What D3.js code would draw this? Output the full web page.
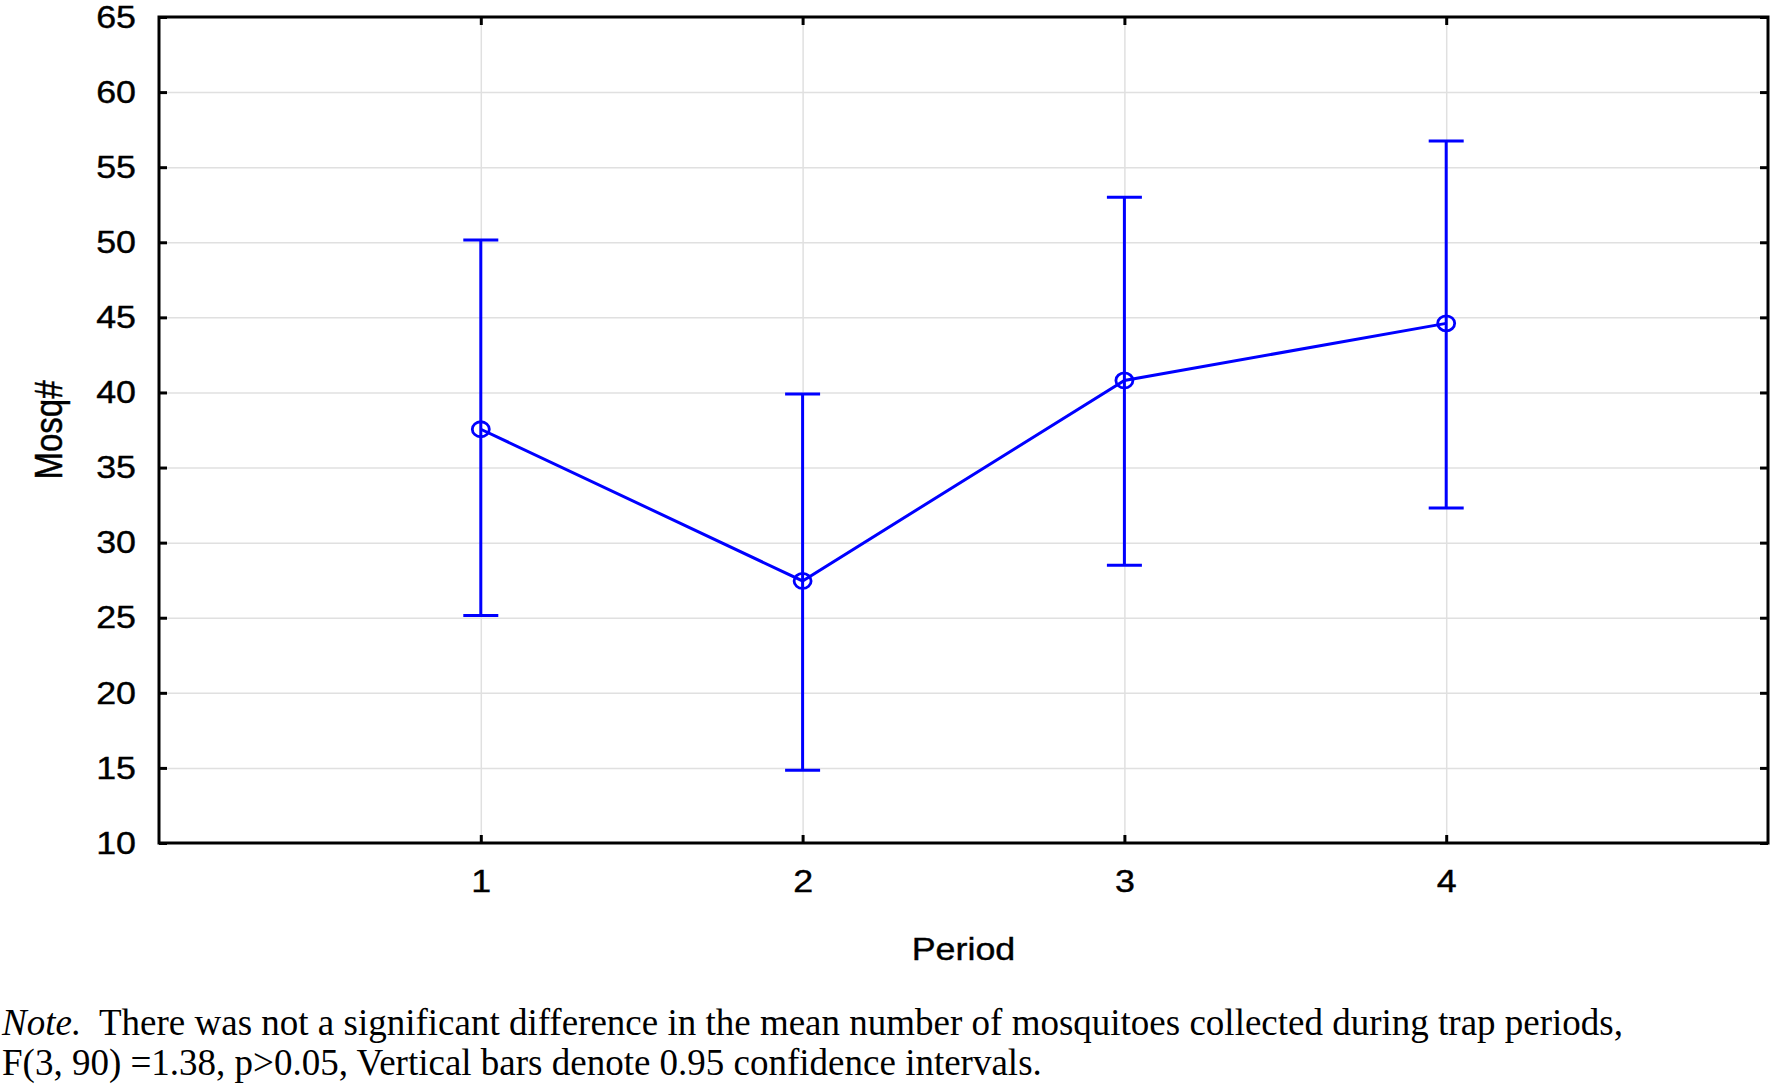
<!DOCTYPE html>
<html>
<head>
<meta charset="utf-8">
<style>
body { margin: 0; background: #fff; }
svg { display: block; }
.axis text { font: 32px "Liberation Sans", Arial, sans-serif; fill: #000; stroke: #000; stroke-width: 0.4; }
.axis line { stroke: #000; stroke-width: 3; }
.axis path { display: none; }
.grid line { stroke: #e0e0e0; stroke-width: 1.5; }
.grid path { display: none; }
.frame { fill: none; stroke: #000; stroke-width: 3; }
.title { font: 32px "Liberation Sans", Arial, sans-serif; fill: #000; stroke: #000; stroke-width: 0.4; }
.note { font: 37px "Liberation Serif", "Times New Roman", serif; fill: #000; }
</style>
</head>
<body>
<svg width="1771" height="1084"></svg>
<script src="https://d3js.org/d3.v7.min.js"></script>
<script>

// data
var periods = [1, 2, 3, 4];
var means = [37.55, 27.45, 40.8, 44.6];
var upper = [50.15, 39.9, 53.0, 56.75];
var lower = [25.15, 14.85, 28.5, 32.3];
var yTicks = [10, 15, 20, 25, 30, 35, 40, 45, 50, 55, 60, 65];
var xTicks = [1, 2, 3, 4];

var svg = d3.select("svg"),
    margin = {top: 17, right: 3, bottom: 241, left: 159},
    width = +svg.attr("width") - margin.left - margin.right,
    height = +svg.attr("height") - margin.top - margin.bottom;

// the source picture is a bit stretched sideways, so the sans text is too
var stretch = 1.12;

var x = d3.scaleLinear().domain([0, 5]).range([0, width]);
var y = d3.scaleLinear().domain([10, 65]).range([height, 0]);

var g = svg.append("g")
    .attr("transform", "translate(" + margin.left + "," + margin.top + ")");

// grid
g.append("g").attr("class", "grid")
  .call(d3.axisLeft(y).tickValues(yTicks.slice(1, -1)).tickSize(-width).tickFormat(""));
g.append("g").attr("class", "grid")
  .attr("transform", "translate(0," + height + ")")
  .call(d3.axisBottom(x).tickValues(xTicks).tickSize(-height).tickFormat(""));

// axes, ticks point inward
var gy = g.append("g").attr("class", "axis")
  .call(d3.axisLeft(y).tickValues(yTicks).tickSize(-8).tickPadding(23));
gy.selectAll("text")
  .attr("x", -23 / stretch)
  .attr("transform", "scale(" + stretch + ",1)");

g.append("g").attr("class", "axis")
  .attr("transform", "translate(" + width + ",0)")
  .call(d3.axisRight(y).tickValues(yTicks).tickSize(-8).tickFormat(""));

var gx = g.append("g").attr("class", "axis")
  .attr("transform", "translate(0," + height + ")")
  .call(d3.axisBottom(x).tickValues(xTicks).tickSize(-8).tickPadding(26).tickFormat(d3.format("d")));
gx.selectAll("text")
  .attr("transform", "scale(" + stretch + ",1)");

g.append("g").attr("class", "axis")
  .call(d3.axisTop(x).tickValues(xTicks).tickSize(-8).tickFormat(""));

g.append("rect").attr("class", "frame")
  .attr("width", width).attr("height", height);

// error bars
var bars = g.selectAll(".ebar")
  .data(periods)
  .enter().append("g")
  .attr("class", "ebar")
  .attr("stroke", "#0000ff")
  .attr("stroke-width", 3);

bars.append("line")
  .attr("x1", function(d) { return x(d); })
  .attr("x2", function(d) { return x(d); })
  .attr("y1", function(d, i) { return y(upper[i]); })
  .attr("y2", function(d, i) { return y(lower[i]); });
bars.append("line")
  .attr("x1", function(d) { return x(d) - 17.5; })
  .attr("x2", function(d) { return x(d) + 17.5; })
  .attr("y1", function(d, i) { return y(upper[i]); })
  .attr("y2", function(d, i) { return y(upper[i]); });
bars.append("line")
  .attr("x1", function(d) { return x(d) - 17.5; })
  .attr("x2", function(d) { return x(d) + 17.5; })
  .attr("y1", function(d, i) { return y(lower[i]); })
  .attr("y2", function(d, i) { return y(lower[i]); });

// mean line
var line = d3.line()
  .x(function(d) { return x(d); })
  .y(function(d, i) { return y(means[i]); });

g.append("path")
  .datum(periods)
  .attr("d", line)
  .attr("fill", "none")
  .attr("stroke", "#0000ff")
  .attr("stroke-width", 3);

g.selectAll(".pt")
  .data(periods)
  .enter().append("ellipse")
  .attr("class", "pt")
  .attr("cx", function(d) { return x(d); })
  .attr("cy", function(d, i) { return y(means[i]); })
  .attr("rx", 8.5)
  .attr("ry", 7.5)
  .attr("fill", "none")
  .attr("stroke", "#0000ff")
  .attr("stroke-width", 2.8);

// axis titles
svg.append("text").attr("class", "title")
  .attr("transform", "translate(" + (margin.left + width / 2) + ",960) scale(" + stretch + ",1)")
  .attr("text-anchor", "middle")
  .text("Period");

svg.append("text").attr("class", "title")
  .style("font-size", "33px")
  .attr("transform", "translate(62," + (margin.top + height / 2) + ") scale(1.17,1) rotate(-90)")
  .attr("text-anchor", "middle")
  .text("Mosq#");

// note under the chart
var n1 = svg.append("text").attr("class", "note")
  .attr("x", 2).attr("y", 1035)
  .attr("xml:space", "preserve");
n1.append("tspan").attr("font-style", "italic").text("Note.");
n1.append("tspan").text("  There was not a significant difference in the mean number of mosquitoes collected during trap periods,");

svg.append("text").attr("class", "note")
  .attr("x", 2).attr("y", 1075)
  .text("F(3, 90) =1.38, p>0.05, Vertical bars denote 0.95 confidence intervals.");

</script>
</body>
</html>
